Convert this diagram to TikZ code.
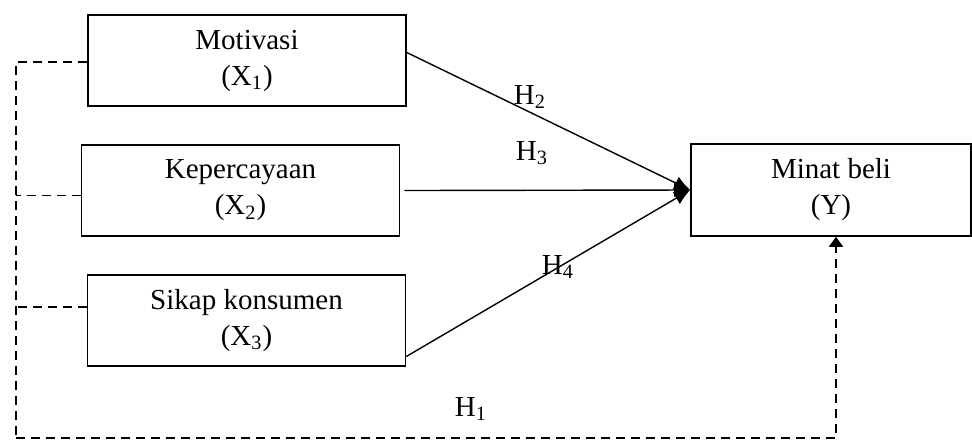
\documentclass[tikz,border=0pt]{standalone}
\usepackage{fontspec}
\setmainfont{Liberation Serif}
\usetikzlibrary{arrows,arrows.meta,shapes,positioning}

\begin{document}
\begin{tikzpicture}[
        x=0.5pt, y=-0.5pt,
        block/.style={rectangle, draw, line width=0.8pt, text centered, align=center,
                      minimum width=159pt, minimum height=45.5pt,
                      font=\fontsize{14.5}{18}\selectfont},
        line/.style={draw, line width=0.7pt, -{Latex[length=8pt,width=7pt]}},
        dline/.style={draw, line width=0.8pt, dash pattern=on 4.5pt off 3pt},
        hlabel/.style={font=\fontsize{14.5}{18}\selectfont}
    ]
    \useasboundingbox (0,0) rectangle (972,441);

    \node [block] (mot) at (247,60.5) {Motivasi\\(X\textsubscript{1})};
    \node [block] (kep) at (240.5,190.5) {Kepercayaan\\(X\textsubscript{2})};
    \node [block] (sik) at (246.5,320.5) {Sikap konsumen\\(X\textsubscript{3})};
    \node [block, minimum width=140pt, minimum height=46pt] (minat) at (831,190) {Minat beli\\(Y)};

    \draw [line] ([yshift=4pt]mot.east) -- (minat.west);
    \draw [line] ([xshift=2pt]kep.east) -- (minat.west);
    \draw [line] ([yshift=-18pt]sik.east) -- (minat.west);

    % dashed path for H1
    \coordinate (corner) at (16,438);
    \coordinate (kepb) at ([yshift=-2.4pt]kep.west);
    \coordinate (sikb) at ([yshift=6.7pt]sik.west);
    \draw [dline] ([yshift=-0.75pt]mot.west) -| (corner);
    \draw [dline, -{Triangle[length=5pt,width=7pt]}] (corner) -| ([xshift=2.5pt]minat.south);
    \draw [dline] (kepb) -- (kepb -| corner);
    \draw [dline] (sikb) -- (sikb -| corner);

    % Labels
    \node [hlabel] (h2) at (530,97) {H\textsubscript{2}};
    \node [hlabel] (h3) at (532,153) {H\textsubscript{3}};
    \node [hlabel] (h4) at (558,267) {H\textsubscript{4}};
    \node [hlabel] (h1) at (471,409) {H\textsubscript{1}};
\end{tikzpicture}
\end{document}
